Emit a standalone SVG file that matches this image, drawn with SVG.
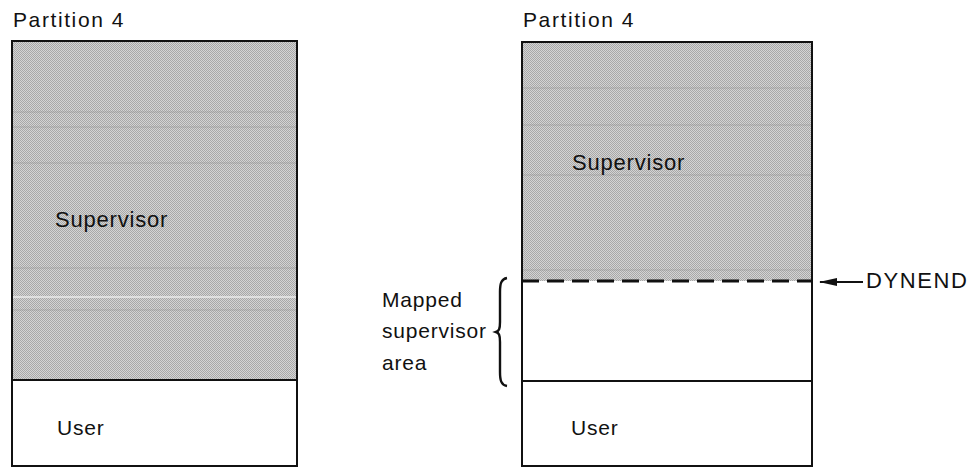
<svg xmlns="http://www.w3.org/2000/svg" width="972" height="475" viewBox="0 0 972 475">
<style>
.t{font-family:"Liberation Sans",Arial,sans-serif;font-size:21px;fill:#111;letter-spacing:0.8px}
.box{fill:none;stroke:#111;stroke-width:2}
.div{stroke:#111;stroke-width:2}
.scan{stroke:#8a8a8a;stroke-width:1;opacity:0.45}
.scanw{stroke:#f2f2f2;stroke-width:1.5;opacity:0.9}
</style>
<defs>
<pattern id="ht" width="2" height="2" patternUnits="userSpaceOnUse">
<rect width="2" height="2" fill="#d4d4d4"/>
<rect x="0" y="0" width="1" height="1" fill="#a8a8a8"/>
<rect x="1" y="1" width="1" height="1" fill="#a8a8a8"/>
</pattern>
<marker id="ah" viewBox="0 0 18 10" refX="17" refY="5" markerWidth="18" markerHeight="10" markerUnits="userSpaceOnUse" orient="auto">
<path d="M0,1 L18,5 L0,9 Z" fill="#111"/>
</marker>
</defs>
<rect width="972" height="475" fill="#fff"/>

<g id="left-partition">
<text class="t" x="13" y="27" style="letter-spacing:1.6px">Partition 4</text>
<g id="left-supervisor">
<rect x="12" y="41" width="285" height="339" fill="url(#ht)"/>
<line class="scan" x1="13" y1="112" x2="296" y2="112"/>
<line class="scan" x1="13" y1="127" x2="296" y2="127"/>
<line class="scan" x1="13" y1="163" x2="296" y2="163"/>
<line class="scan" x1="13" y1="268" x2="296" y2="268"/>
<line class="scanw" x1="13" y1="297" x2="296" y2="297"/>
<line class="scan" x1="13" y1="310" x2="296" y2="310"/>
<text class="t" x="55" y="227" style="font-size:22px">Supervisor</text>
</g>
<g id="left-user">
<text class="t" x="57" y="435">User</text>
</g>
<rect class="box" x="12" y="41" width="285" height="425"/>
<line class="div" x1="12" y1="380" x2="297" y2="380"/>
</g>

<g id="right-partition">
<text class="t" x="523" y="27" style="letter-spacing:1.6px">Partition 4</text>
<g id="right-supervisor">
<rect x="522" y="42" width="290" height="239" fill="url(#ht)"/>
<line class="scan" x1="523" y1="88" x2="811" y2="88"/>
<line class="scan" x1="523" y1="125" x2="811" y2="125"/>
<line class="scan" x1="523" y1="175" x2="811" y2="175"/>
<line class="scan" x1="523" y1="270" x2="811" y2="270"/>
<text class="t" x="572" y="170" style="font-size:22px">Supervisor</text>
</g>
<g id="right-user">
<text class="t" x="571" y="435">User</text>
</g>
<rect class="box" x="522" y="42" width="290" height="424"/>
<line class="div" x1="522" y1="381" x2="812" y2="381"/>
</g>

<g id="mapped-label">
<path d="M507,278 C501,279 500,284 500,292 L500,322 C500,329 499,331 496,332 C499,333 500,335 500,342 L500,372 C500,380 501,385 507,386" fill="none" stroke="#111" stroke-width="2.4"/>
<text class="t" x="382" y="307">Mapped</text>
<text class="t" x="382" y="338">supervisor</text>
<text class="t" x="382" y="370">area</text>
</g>

<g id="dynend-label">
<text class="t" x="866" y="288" style="font-size:22px;letter-spacing:1.6px">DYNEND</text>
</g>

<g id="connectors">
<line x1="522" y1="281" x2="812" y2="281" stroke="#111" stroke-width="3" stroke-dasharray="17 8"/>
<line x1="863" y1="282" x2="820" y2="282" stroke="#111" stroke-width="2" marker-end="url(#ah)"/>
</g>
</svg>
